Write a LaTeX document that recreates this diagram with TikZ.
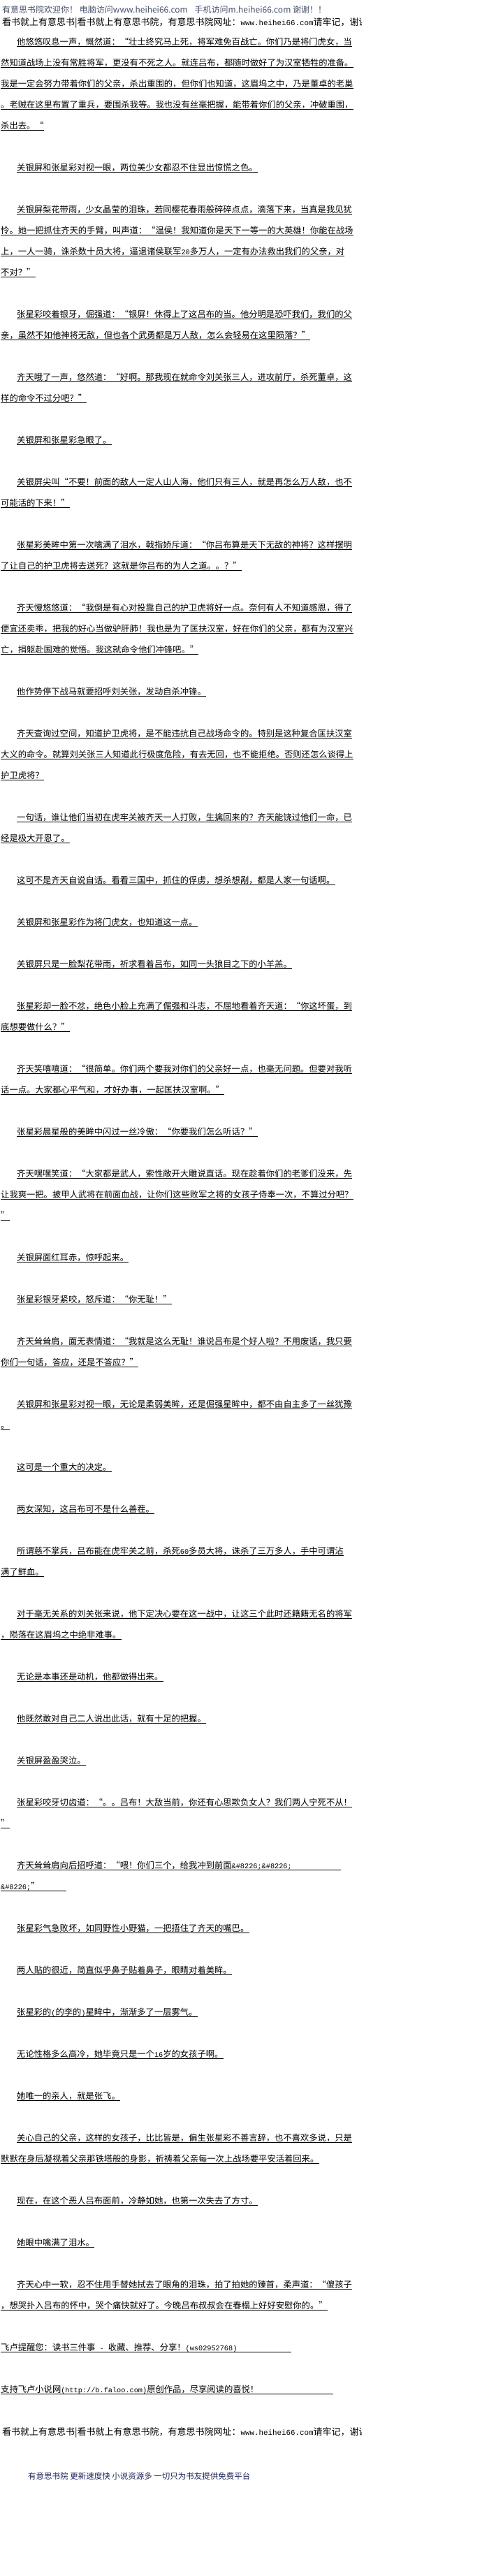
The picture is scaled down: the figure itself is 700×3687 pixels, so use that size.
\documentclass[tikz,border=0pt]{standalone}
\usepackage{fontspec}
\setmainfont{Noto Sans CJK SC}
\newfontfamily\halfw[Scale=0.8333]{Liberation Mono}
\newcommand{\hw}[1]{{\halfw #1}}
\usetikzlibrary{positioning}
\definecolor{hdrgray}{RGB}{70,80,105}
\definecolor{footnavy}{RGB}{30,40,90}

\begin{document}
\begin{tikzpicture}[x=1pt, y=-1pt,
  txt/.style={anchor=base west, inner sep=0pt, text depth=1.3pt, font=\fontsize{12.3}{14}\selectfont},
  hdr/.style={anchor=base west, inner sep=0pt, font=\fontsize{12}{14}\selectfont, text=hdrgray},
  site/.style={anchor=base west, inner sep=0pt, font=\fontsize{13}{15}\selectfont},
  foot/.style={anchor=base west, inner sep=0pt, font=\fontsize{11.5}{14}\selectfont, text=footnavy},
  uline/.style={line width=0.8pt}
]
\useasboundingbox (0,0) rectangle (700,3687);
\fill[white] (0,0) rectangle (700,3687);

% page head
\node[hdr] (welcome) at (3,18.5) {有意思书院欢迎你！ 电脑访问www.heihei66.com\hspace{10pt}手机访问m.heihei66.com 谢谢！！};
\begin{scope}
\clip (0,20) rectangle (517,45);
\node[site] (siteTop) at (3,36) {看书就上有意思书|看书就上有意思书院，有意思书院网址：\hw{www.heihei66.com}请牢记，谢谢};
\end{scope}

% chapter text
\node[txt] (p1a) at (24,64.5) {他悠悠叹息一声，慨然道：“壮士终究马上死，将军难免百战亡。你们乃是将门虎女，当};
\node[txt] (p1b) at (1,94.5) {然知道战场上没有常胜将军，更没有不死之人。就连吕布，都随时做好了为汉室牺牲的准备。};
\node[txt] (p1c) at (1,124.5) {我是一定会努力带着你们的父亲，杀出重围的，但你们也知道，这眉坞之中，乃是董卓的老巢};
\node[txt] (p1d) at (1,154.5) {。老贼在这里布置了重兵，要围杀我等。我也没有丝毫把握，能带着你们的父亲，冲破重围，};
\node[txt] (p1e) at (1,184.5) {杀出去。“};

\node[txt] (p2a) at (24,244.5) {关银屏和张星彩对视一眼，两位美少女都忍不住显出惊慌之色。};

\node[txt] (p3a) at (24,304.5) {关银屏梨花带雨，少女晶莹的泪珠，若同樱花春雨般碎碎点点，滴落下来，当真是我见犹};
\node[txt] (p3b) at (1,334.5) {怜。她一把抓住齐天的手臂，叫声道：“温侯！我知道你是天下一等一的大英雄！你能在战场};
\node[txt] (p3c) at (1,364.5) {上，一人一骑，诛杀数十员大将，逼退诸侯联军\hw{20}多万人，一定有办法救出我们的父亲，对};
\node[txt] (p3d) at (1,394.5) {不对？”};

\node[txt] (p4a) at (24,454.5) {张星彩咬着银牙，倔强道：“银屏！休得上了这吕布的当。他分明是恐吓我们，我们的父};
\node[txt] (p4b) at (1,484.5) {亲，虽然不如他神将无敌，但也各个武勇都是万人敌，怎么会轻易在这里陨落？”};

\node[txt] (p5a) at (24,544.5) {齐天哦了一声，悠然道：“好啊。那我现在就命令刘关张三人，进攻前厅，杀死董卓，这};
\node[txt] (p5b) at (1,574.5) {样的命令不过分吧？”};

\node[txt] (p6a) at (24,634.5) {关银屏和张星彩急眼了。};

\node[txt] (p7a) at (24,694.5) {关银屏尖叫“不要！前面的敌人一定人山人海，他们只有三人，就是再怎么万人敌，也不};
\node[txt] (p7b) at (1,724.5) {可能活的下来！”};

\node[txt] (p8a) at (24,784.5) {张星彩美眸中第一次噙满了泪水，戟指娇斥道：“你吕布算是天下无敌的神将？这样摆明};
\node[txt] (p8b) at (1,814.5) {了让自己的护卫虎将去送死？这就是你吕布的为人之道。。？”};

\node[txt] (p9a) at (24,874.5) {齐天慢悠悠道：“我倒是有心对投靠自己的护卫虎将好一点。奈何有人不知道感恩，得了};
\node[txt] (p9b) at (1,904.5) {便宜还卖乖，把我的好心当做驴肝肺！我也是为了匡扶汉室，好在你们的父亲，都有为汉室兴};
\node[txt] (p9c) at (1,934.5) {亡，捐躯赴国难的觉悟。我这就命令他们冲锋吧。”};

\node[txt] (p10a) at (24,994.5) {他作势停下战马就要招呼刘关张，发动自杀冲锋。};

\node[txt] (p11a) at (24,1054.5) {齐天查询过空间，知道护卫虎将，是不能违抗自己战场命令的。特别是这种复合匡扶汉室};
\node[txt] (p11b) at (1,1084.5) {大义的命令。就算刘关张三人知道此行极度危险，有去无回，也不能拒绝。否则还怎么谈得上};
\node[txt] (p11c) at (1,1114.5) {护卫虎将？};

\node[txt] (p12a) at (24,1174.5) {一句话，谁让他们当初在虎牢关被齐天一人打败，生擒回来的？齐天能饶过他们一命，已};
\node[txt] (p12b) at (1,1204.5) {经是极大开恩了。};

\node[txt] (p13a) at (24,1264.5) {这可不是齐天自说自话。看看三国中，抓住的俘虏，想杀想剐，都是人家一句话啊。};
\node[txt] (p14a) at (24,1324.5) {关银屏和张星彩作为将门虎女，也知道这一点。};
\node[txt] (p15a) at (24,1384.5) {关银屏只是一脸梨花带雨，祈求看着吕布，如同一头狼目之下的小羊羔。};

\node[txt] (p16a) at (24,1444.5) {张星彩却一脸不忿，绝色小脸上充满了倔强和斗志，不屈地看着齐天道：“你这坏蛋，到};
\node[txt] (p16b) at (1,1474.5) {底想要做什么？”};

\node[txt] (p17a) at (24,1534.5) {齐天笑嘻嘻道：“很简单。你们两个要我对你们的父亲好一点，也毫无问题。但要对我听};
\node[txt] (p17b) at (1,1564.5) {话一点。大家都心平气和，才好办事，一起匡扶汉室啊。”};

\node[txt] (p18a) at (24,1624.5) {张星彩晨星般的美眸中闪过一丝冷傲：“你要我们怎么听话？”};

\node[txt] (p19a) at (24,1684.5) {齐天嘿嘿笑道：“大家都是武人，索性敞开大雕说直话。现在趁着你们的老爹们没来，先};
\node[txt] (p19b) at (1,1714.5) {让我爽一把。披甲人武将在前面血战，让你们这些败军之将的女孩子侍奉一次，不算过分吧？};
\node[txt] (p19c) at (1,1744.5) {”};

\node[txt] (p20a) at (24,1804.5) {关银屏面红耳赤，惊呼起来。};
\node[txt] (p21a) at (24,1864.5) {张星彩银牙紧咬，怒斥道：“你无耻！”};

\node[txt] (p22a) at (24,1924.5) {齐天耸耸肩，面无表情道：“我就是这么无耻！谁说吕布是个好人啦？不用废话，我只要};
\node[txt] (p22b) at (1,1954.5) {你们一句话，答应，还是不答应？”};

\node[txt] (p23a) at (24,2014.5) {关银屏和张星彩对视一眼，无论是柔弱美眸，还是倔强星眸中，都不由自主多了一丝犹豫};
\node[txt] (p23b) at (1,2044.5) {。};

\node[txt] (p24a) at (24,2104.5) {这可是一个重大的决定。};
\node[txt] (p25a) at (24,2164.5) {两女深知，这吕布可不是什么善茬。};

\node[txt] (p26a) at (24,2224.5) {所谓慈不掌兵，吕布能在虎牢关之前，杀死\hw{60}多员大将，诛杀了三万多人，手中可谓沾};
\node[txt] (p26b) at (1,2254.5) {满了鲜血。};

\node[txt] (p27a) at (24,2314.5) {对于毫无关系的刘关张来说，他下定决心要在这一战中，让这三个此时还籍籍无名的将军};
\node[txt] (p27b) at (1,2344.5) {，陨落在这眉坞之中绝非难事。};

\node[txt] (p28a) at (24,2404.5) {无论是本事还是动机，他都做得出来。};
\node[txt] (p29a) at (24,2464.5) {他既然敢对自己二人说出此话，就有十足的把握。};
\node[txt] (p30a) at (24,2524.5) {关银屏盈盈哭泣。};

\node[txt] (p31a) at (24,2584.5) {张星彩咬牙切齿道：“。。吕布！大敌当前，你还有心思欺负女人？我们两人宁死不从！};
\node[txt] (p31b) at (1,2614.5) {”};

\node[txt] (p32a) at (24,2674.5) {\makebox[464pt][l]{齐天耸耸肩向后招呼道：“喂！你们三个，给我冲到前面\hw{\&\#8226;\&\#8226;}}};
\node[txt] (p32b) at (1,2704.5) {\makebox[94pt][l]{\hw{\&\#8226;}”}};

\node[txt] (p33a) at (24,2764.5) {张星彩气急败坏，如同野性小野猫，一把捂住了齐天的嘴巴。};
\node[txt] (p34a) at (24,2824.5) {两人贴的很近，简直似乎鼻子贴着鼻子，眼睛对着美眸。};
\node[txt] (p35a) at (24,2884.5) {张星彩的\hw{(}的李的\hw{)}星眸中，渐渐多了一层雾气。};
\node[txt] (p36a) at (24,2944.5) {无论性格多么高冷，她毕竟只是一个\hw{16}岁的女孩子啊。};
\node[txt] (p37a) at (24,3004.5) {她唯一的亲人，就是张飞。};

\node[txt] (p38a) at (24,3064.5) {关心自己的父亲，这样的女孩子，比比皆是，偏生张星彩不善言辞，也不喜欢多说，只是};
\node[txt] (p38b) at (1,3094.5) {默默在身后凝视着父亲那铁塔般的身影，祈祷着父亲每一次上战场要平安活着回来。};

\node[txt] (p39a) at (24,3154.5) {现在，在这个恶人吕布面前，冷静如她，也第一次失去了方寸。};
\node[txt] (p40a) at (24,3214.5) {她眼中噙满了泪水。};

\node[txt] (p41a) at (24,3274.5) {齐天心中一软，忍不住用手替她拭去了眼角的泪珠，拍了拍她的臻首，柔声道：“傻孩子};
\node[txt] (p41b) at (1,3304.5) {，想哭扑入吕布的怀中，哭个痛快就好了。今晚吕布叔叔会在春榻上好好安慰你的。”};

% page foot
\node[txt] (remind) at (1,3364.5) {\makebox[416pt][l]{飞卢提醒您：读书三件事\hw{ - }收藏、推荐、分享！\hw{(ws02952768)}}};
\node[txt] (support) at (1,3424.5) {\makebox[476pt][l]{支持飞卢小说网\hw{(http://b.faloo.com)}原创作品，尽享阅读的喜悦！}};
\begin{scope}
\clip (0,3465) rectangle (517,3495);
\node[site] (siteBot) at (3,3485) {看书就上有意思书|看书就上有意思书院，有意思书院网址：\hw{www.heihei66.com}请牢记，谢谢};
\end{scope}
\node[foot] (slogan) at (40,3548.5) {有意思书院 更新速度快 小说资源多 一切只为书友提供免费平台};

\draw[uline] (p1a.south west) -- (p1a.south east);
\draw[uline] (p1b.south west) -- (p1b.south east);
\draw[uline] (p1c.south west) -- (p1c.south east);
\draw[uline] (p1d.south west) -- (p1d.south east);
\draw[uline] (p1e.south west) -- (p1e.south east);
\draw[uline] (p2a.south west) -- (p2a.south east);
\draw[uline] (p3a.south west) -- (p3a.south east);
\draw[uline] (p3b.south west) -- (p3b.south east);
\draw[uline] (p3c.south west) -- (p3c.south east);
\draw[uline] (p3d.south west) -- (p3d.south east);
\draw[uline] (p4a.south west) -- (p4a.south east);
\draw[uline] (p4b.south west) -- (p4b.south east);
\draw[uline] (p5a.south west) -- (p5a.south east);
\draw[uline] (p5b.south west) -- (p5b.south east);
\draw[uline] (p6a.south west) -- (p6a.south east);
\draw[uline] (p7a.south west) -- (p7a.south east);
\draw[uline] (p7b.south west) -- (p7b.south east);
\draw[uline] (p8a.south west) -- (p8a.south east);
\draw[uline] (p8b.south west) -- (p8b.south east);
\draw[uline] (p9a.south west) -- (p9a.south east);
\draw[uline] (p9b.south west) -- (p9b.south east);
\draw[uline] (p9c.south west) -- (p9c.south east);
\draw[uline] (p10a.south west) -- (p10a.south east);
\draw[uline] (p11a.south west) -- (p11a.south east);
\draw[uline] (p11b.south west) -- (p11b.south east);
\draw[uline] (p11c.south west) -- (p11c.south east);
\draw[uline] (p12a.south west) -- (p12a.south east);
\draw[uline] (p12b.south west) -- (p12b.south east);
\draw[uline] (p13a.south west) -- (p13a.south east);
\draw[uline] (p14a.south west) -- (p14a.south east);
\draw[uline] (p15a.south west) -- (p15a.south east);
\draw[uline] (p16a.south west) -- (p16a.south east);
\draw[uline] (p16b.south west) -- (p16b.south east);
\draw[uline] (p17a.south west) -- (p17a.south east);
\draw[uline] (p17b.south west) -- (p17b.south east);
\draw[uline] (p18a.south west) -- (p18a.south east);
\draw[uline] (p19a.south west) -- (p19a.south east);
\draw[uline] (p19b.south west) -- (p19b.south east);
\draw[uline] (p19c.south west) -- (p19c.south east);
\draw[uline] (p20a.south west) -- (p20a.south east);
\draw[uline] (p21a.south west) -- (p21a.south east);
\draw[uline] (p22a.south west) -- (p22a.south east);
\draw[uline] (p22b.south west) -- (p22b.south east);
\draw[uline] (p23a.south west) -- (p23a.south east);
\draw[uline] (p23b.south west) -- (p23b.south east);
\draw[uline] (p24a.south west) -- (p24a.south east);
\draw[uline] (p25a.south west) -- (p25a.south east);
\draw[uline] (p26a.south west) -- (p26a.south east);
\draw[uline] (p26b.south west) -- (p26b.south east);
\draw[uline] (p27a.south west) -- (p27a.south east);
\draw[uline] (p27b.south west) -- (p27b.south east);
\draw[uline] (p28a.south west) -- (p28a.south east);
\draw[uline] (p29a.south west) -- (p29a.south east);
\draw[uline] (p30a.south west) -- (p30a.south east);
\draw[uline] (p31a.south west) -- (p31a.south east);
\draw[uline] (p31b.south west) -- (p31b.south east);
\draw[uline] (p32a.south west) -- (p32a.south east);
\draw[uline] (p32b.south west) -- (p32b.south east);
\draw[uline] (p33a.south west) -- (p33a.south east);
\draw[uline] (p34a.south west) -- (p34a.south east);
\draw[uline] (p35a.south west) -- (p35a.south east);
\draw[uline] (p36a.south west) -- (p36a.south east);
\draw[uline] (p37a.south west) -- (p37a.south east);
\draw[uline] (p38a.south west) -- (p38a.south east);
\draw[uline] (p38b.south west) -- (p38b.south east);
\draw[uline] (p39a.south west) -- (p39a.south east);
\draw[uline] (p40a.south west) -- (p40a.south east);
\draw[uline] (p41a.south west) -- (p41a.south east);
\draw[uline] (p41b.south west) -- (p41b.south east);
\draw[uline] (remind.south west) -- (remind.south east);
\draw[uline] (support.south west) -- (support.south east);

\end{tikzpicture}
\end{document}
